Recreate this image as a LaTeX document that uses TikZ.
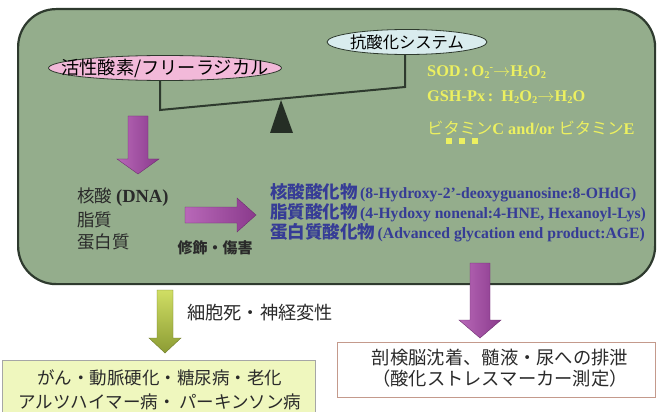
\documentclass[tikz,border=0pt]{standalone}
\usepackage{fontspec}
\setmainfont{Liberation Serif}
\newfontfamily\jp{Noto Sans CJK JP}
\usetikzlibrary{shapes.geometric}
\definecolor{boxgreen}{HTML}{94AD8C}
\definecolor{boxedge}{HTML}{2E3A2E}
\definecolor{rospink}{HTML}{F2B9D9}
\definecolor{aoxblue}{HTML}{D9ECEE}
\definecolor{ylw}{HTML}{ECF060}
\definecolor{bluetxt}{HTML}{363C96}
\definecolor{darktxt}{HTML}{2A2A2A}
\definecolor{purA}{HTML}{B868B8}
\definecolor{purB}{HTML}{8A3A8C}
\definecolor{grnA}{HTML}{D0DE64}
\definecolor{grnB}{HTML}{8C9C34}
\definecolor{paleylw}{HTML}{EFF7BE}
\definecolor{rbox}{HTML}{C49A8C}
\newcommand\dn[1]{\raisebox{-0.35ex}{\fontsize{10.5}{10.5}\selectfont #1}}
\newcommand\upr[1]{\raisebox{0.7ex}{\fontsize{10.5}{10.5}\selectfont #1}}
\tikzset{
  ell/.style={ellipse, draw=boxedge, line width=0.8pt, inner sep=0pt},
  jptxt/.style={font=\jp\fontsize{17.5}{17.5}\selectfont, text=darktxt, inner sep=0pt},
  ytxt/.style={font=\bfseries\fontsize{16.3}{16.3}\selectfont, text=ylw, anchor=west, inner sep=0pt},
  btxt/.style={text=bluetxt, anchor=west, inner sep=0pt},
  beam/.style={draw=boxedge, line width=2pt},
  purarrow/.style={left color=purA, right color=purB, draw=purB!80!black, line width=0.4pt},
  grnarrow/.style={top color=grnA, bottom color=grnB, draw=grnB!80!black, line width=0.4pt},
}
\begin{document}
\begin{tikzpicture}[x=1pt,y=-1pt]
\useasboundingbox (0,0) rectangle (657,412);
\fill[white] (0,0) rectangle (657,412);
% main box
\node[draw=boxedge, fill=boxgreen, line width=2.2pt, rounded corners=38pt,
      minimum width=637pt, minimum height=275pt, inner sep=0pt, anchor=north west] (main) at (17,8) {};
% ellipses
\node[ell, fill=rospink, minimum width=233pt, minimum height=25pt] (ros) at (165,68) {};
\node[jptxt, text=black, font=\jp\fontsize{18.2}{18.2}\selectfont] (rost) at (ros) {活性酸素/フリーラジカル};
\node[ell, fill=aoxblue, minimum width=160pt, minimum height=25pt] (aox) at (407,42) {};
\node[jptxt, text=black, font=\jp\fontsize{16.3}{16.3}\selectfont] (aoxt) at (aox) {抗酸化システム};
% balance
\coordinate (bl) at (160,110);
\coordinate (br) at (405,87);
\draw[beam] (bl |- ros.south) -- (bl) -- (br) -- (br |- aox.south);
\fill[boxedge!80!black] (281,100) -- (293,133) -- (270,133) -- cycle;
% antioxidant list
\node[ytxt] (sod) at (427,72) {SOD\,:\,O\dn{2}\upr{-}$\rightarrow$H\dn{2}O\dn{2}};
\node[ytxt] (gsh) at (427,97) {GSH-Px\,:\ \ H\dn{2}O\dn{2}$\rightarrow$H\dn{2}O};
\node[ytxt] (vit) at (427,128) {{\jp\mdseries ビタミン}C and/or {\jp\mdseries ビタミン}E};
\foreach \xx in {449,462,475} \fill[ylw] (\xx-3,138) rectangle (\xx+3,144);
% left substrates
\node[jptxt, anchor=west] (dna) at (77,197) {核酸 {\rmfamily\bfseries\fontsize{18.5}{18.5}\selectfont (DNA)}};
\node[jptxt, anchor=west] (lip) at (77,220) {脂質};
\node[jptxt, anchor=west] (pro) at (77,242) {蛋白質};
\node[jptxt, font=\jp\bfseries\fontsize{15}{15}\selectfont] (mod) at (215,248) {修飾・傷害};
% oxidation products
\node[btxt] (p1) at (270,193) {{\jp\bfseries\fontsize{17.5}{17.5}\selectfont 核酸酸化物} {\bfseries\fontsize{15.7}{15.7}\selectfont (8-Hydroxy-2’-deoxyguanosine:8-OHdG)}};
\node[btxt] (p2) at (270,213) {{\jp\bfseries\fontsize{17.5}{17.5}\selectfont 脂質酸化物} {\bfseries\fontsize{15.7}{15.7}\selectfont (4-Hydoxy nonenal:4-HNE, Hexanoyl-Lys)}};
\node[btxt] (p3) at (270,233) {{\jp\bfseries\fontsize{17.5}{17.5}\selectfont 蛋白質酸化物} {\bfseries\fontsize{15.7}{15.7}\selectfont (Advanced glycation end product:AGE)}};
% block arrows
\shade[purarrow] (128,116) -- (148,116) -- (148,159) -- (159,159) -- (138,174) -- (117,159) -- (128,159) -- cycle;
\shade[purarrow] (185,207) -- (237,207) -- (237,198) -- (256,215) -- (237,232) -- (237,223) -- (185,223) -- cycle;
\shade[purarrow] (470,263) -- (490,263) -- (490,320) -- (501,320) -- (480,338) -- (459,320) -- (470,320) -- cycle;
\shade[grnarrow] (157,290) -- (173,290) -- (173,338) -- (181,338) -- (165,353) -- (149,338) -- (157,338) -- cycle;
\node[jptxt, anchor=west, font=\jp\fontsize{18.2}{18.2}\selectfont] (death) at (187,313) {細胞死・神経変性};
% outcome boxes
\node[draw=gray!70, fill=paleylw, line width=0.8pt, minimum width=313pt, minimum height=66pt,
      inner sep=0pt, anchor=north west] (dis) at (2,360) {};
\node[jptxt, align=center, font=\jp\fontsize{17.5}{24}\selectfont] (dist) at (160,390)
  {がん・動脈硬化・糖尿病・老化\\アルツハイマー病・ パーキンソン病};
\node[draw=rbox, fill=white, line width=0.8pt, minimum width=318pt, minimum height=55pt,
      inner sep=0pt, anchor=north west] (exc) at (337,342) {};
\node[jptxt, align=center, font=\jp\fontsize{18.3}{20.5}\selectfont] (exct) at (500,368)
  {剖検脳沈着、髄液・尿への排泄\\（酸化ストレスマーカー測定）};
\end{tikzpicture}
\end{document}
